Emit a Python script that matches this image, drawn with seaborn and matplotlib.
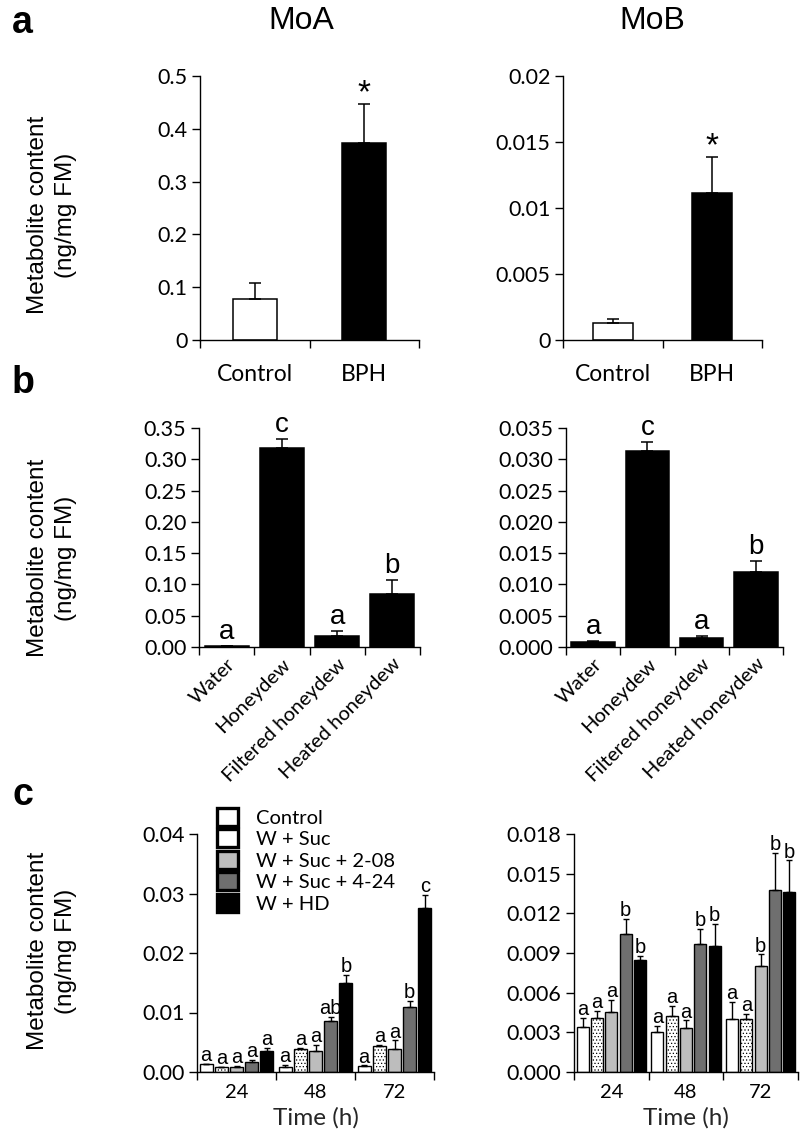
import numpy as np
import pandas as pd
import matplotlib
matplotlib.use('Agg')
import matplotlib.pyplot as plt
import seaborn as sns
from matplotlib.patches import Patch

# ---- panel a: BPH infestation ----
a_groups = ['Control', 'BPH']
moa_a_mean = [0.077, 0.373]
moa_a_sd = [0.031, 0.074]
mob_a_mean = [0.0013, 0.0111]
mob_a_sd = [0.0003, 0.0028]
a_marks = ['', '*']
a_colors = ['white', 'black']

# ---- panel b: honeydew treatments ----
b_groups = ['Water', 'Honeydew', 'Filtered honeydew', 'Heated honeydew']
moa_b_mean = [0.0015, 0.318, 0.018, 0.085]
moa_b_sd = [0.0003, 0.014, 0.008, 0.022]
mob_b_mean = [0.0008, 0.0313, 0.0014, 0.0120]
mob_b_sd = [0.0001, 0.0015, 0.0004, 0.0017]
b_letters = ['a', 'c', 'a', 'b']
b_colors = ['black'] * 4

# ---- panel c: time course (rows = treatment, cols = time) ----
times = ['24', '48', '72']
treatments = ['Control', 'W + Suc', 'W + Suc + 2-08', 'W + Suc + 4-24', 'W + HD']
c_colors = ['white', 'white', '#bdbdbd', '#6f6f6f', 'black']
moa_c_mean = [[0.0013, 0.0008, 0.0010],
              [0.0008, 0.0039, 0.0044],
              [0.0009, 0.0036, 0.0039],
              [0.0016, 0.0086, 0.0110],
              [0.0035, 0.0150, 0.0276]]
moa_c_sd = [[0.0001, 0.0004, 0.0001],
            [0.0001, 0.0001, 0.0001],
            [0.0001, 0.0009, 0.0014],
            [0.0005, 0.0006, 0.0009],
            [0.0005, 0.0013, 0.0022]]
moa_c_letters = [['a', 'a', 'a'],
                 ['a', 'a', 'a'],
                 ['a', 'a', 'a'],
                 ['a', 'ab', 'b'],
                 ['a', 'b', 'c']]
mob_c_mean = [[0.0034, 0.0030, 0.0040],
              [0.0041, 0.0042, 0.0040],
              [0.00455, 0.0033, 0.0080],
              [0.0104, 0.0097, 0.0138],
              [0.0085, 0.0095, 0.0136]]
mob_c_sd = [[0.0007, 0.0005, 0.0013],
            [0.0005, 0.0008, 0.0004],
            [0.0009, 0.0006, 0.0009],
            [0.0012, 0.0011, 0.0028],
            [0.0003, 0.0017, 0.0024]]
mob_c_letters = [['a', 'a', 'a'],
                 ['a', 'a', 'a'],
                 ['a', 'a', 'b'],
                 ['b', 'b', 'b'],
                 ['b', 'b', 'b']]

# y ticks per panel
moa_a_ticks = [0, 0.1, 0.2, 0.3, 0.4, 0.5]
mob_a_ticks = [0, 0.005, 0.01, 0.015, 0.02]
moa_b_ticks = [0, 0.05, 0.10, 0.15, 0.20, 0.25, 0.30, 0.35]
mob_b_ticks = [0, 0.005, 0.010, 0.015, 0.020, 0.025, 0.030, 0.035]
moa_c_ticks = [0, 0.01, 0.02, 0.03, 0.04]
mob_c_ticks = [0, 0.003, 0.006, 0.009, 0.012, 0.015, 0.018]

sns.set_style('ticks')
plt.rcParams['font.family'] = ['Lato', 'DejaVu Sans']
plt.rcParams['axes.edgecolor'] = 'black'
plt.rcParams['xtick.color'] = 'black'
plt.rcParams['ytick.color'] = 'black'
plt.rcParams['text.color'] = 'black'
plt.rcParams['hatch.linewidth'] = 0.5
ARIAL = ['Liberation Sans', 'DejaVu Sans']
TICK_FS = 15.5

W, H = 800, 1129
fig = plt.figure(figsize=(8, 11.29), dpi=100)


def add_ax(x0, y0, x1, y1):
    # pixel box -> figure fraction
    return fig.add_axes([x0 / W, 1 - y1 / H, (x1 - x0) / W, (y1 - y0) / H])


def style_axis(ax, ticks, fmt, n):
    sns.despine(ax=ax)
    for s in ['left', 'bottom']:
        ax.spines[s].set_linewidth(1.0)
    ax.set_ylim(0, ticks[-1])
    ax.set_yticks(ticks, [fmt.format(t) for t in ticks])
    ax.set_xlim(-0.5, n - 0.5)
    ax.set_xticks(np.arange(-0.5, n), [''] * (n + 1))
    ax.tick_params(axis='both', which='major', direction='out', length=6, width=1.0,
                   labelsize=TICK_FS, pad=3)
    ax.tick_params(axis='x', which='minor', length=0)
    ax.set_xlabel('')
    ax.set_ylabel('')


def simple_panel(ax, cats, mean, sd, colors, width, marks, mark_kw, ticks, fmt, xlab_kw):
    df = pd.DataFrame({'cat': cats, 'val': mean})
    sns.barplot(data=df, x='cat', y='val', hue='cat', palette=colors, legend=False,
                width=width, edgecolor='black', linewidth=1.1, saturation=1, ax=ax)
    bars = sorted(ax.patches, key=lambda p: p.get_x())
    xs = [p.get_x() + p.get_width() / 2 for p in bars]
    ax.errorbar(xs, mean, yerr=[np.zeros(len(mean)), sd], fmt='none', ecolor='black',
                elinewidth=1.1, capsize=4, capthick=1.1)
    for x, m, s, lab in zip(xs, mean, sd, marks):
        if lab:
            ax.annotate(lab, (x, m + s), **mark_kw)
    style_axis(ax, ticks, fmt, len(cats))
    ax.set_xticks(range(len(cats)), cats, minor=True, **xlab_kw)


def time_panel(ax, mean, sd, letters, ticks, fmt):
    rows = []
    for k, trt in enumerate(treatments):
        for t, tm in enumerate(times):
            rows.append({'time': tm, 'treatment': trt, 'val': mean[k][t]})
    df = pd.DataFrame(rows)
    sns.barplot(data=df, x='time', y='val', hue='treatment', hue_order=treatments,
                order=times, palette=c_colors, width=0.96, gap=0.16, legend=False,
                edgecolor='black', linewidth=1.0, saturation=1, ax=ax)
    bar_conts = list(ax.containers)
    for k, cont in enumerate(bar_conts):
        xs = [p.get_x() + p.get_width() / 2 for p in cont.patches]
        if k == 1:
            for p in cont.patches:
                p.set_hatch('.....')
        ax.errorbar(xs, mean[k], yerr=[np.zeros(len(times)), sd[k]], fmt='none',
                    ecolor='black', elinewidth=1.0, capsize=2.5, capthick=1.0)
        for x, m, s, lab in zip(xs, mean[k], sd[k], letters[k]):
            ax.annotate(lab, (x, m + s), xytext=(0, 2), textcoords='offset points',
                        ha='center', va='baseline', fontsize=14.5, family=ARIAL,
                        annotation_clip=False)
    style_axis(ax, ticks, fmt, len(times))
    ax.set_xticks(range(len(times)), times, minor=True, fontsize=14.5)
    ax.tick_params(axis='x', which='minor', pad=9)
    ax.set_xlabel('Time (h)', fontsize=17.5, labelpad=4)


star_kw = dict(xytext=(0, 1), textcoords='offset points', ha='center', va='baseline',
               fontsize=24, family=ARIAL, annotation_clip=False)
let_kw = dict(xytext=(0, 5), textcoords='offset points', ha='center', va='baseline',
              fontsize=20, family=ARIAL, annotation_clip=False)
a_xlab = dict(fontsize=16.5)
b_xlab = dict(fontsize=14.5, rotation=45, ha='right', rotation_mode='anchor')

# panel a
ax = add_ax(200, 76, 419, 340)
simple_panel(ax, a_groups, moa_a_mean, moa_a_sd, a_colors, 0.4, a_marks, star_kw,
             moa_a_ticks, '{:g}', a_xlab)
ax.tick_params(axis='x', which='minor', pad=17)
ax = add_ax(563, 76, 762, 340)
simple_panel(ax, a_groups, mob_a_mean, mob_a_sd, a_colors, 0.4, a_marks, star_kw,
             mob_a_ticks, '{:g}', a_xlab)
ax.tick_params(axis='x', which='minor', pad=17)

# panel b
ax = add_ax(199, 428, 420, 647)
simple_panel(ax, b_groups, moa_b_mean, moa_b_sd, b_colors, 0.8, b_letters, let_kw,
             moa_b_ticks, '{:.2f}', b_xlab)
ax.tick_params(axis='x', which='minor', pad=6)
ax = add_ax(566, 428, 783, 647)
simple_panel(ax, b_groups, mob_b_mean, mob_b_sd, b_colors, 0.8, b_letters, let_kw,
             mob_b_ticks, '{:.3f}', b_xlab)
ax.tick_params(axis='x', which='minor', pad=6)

# panel c
ax = add_ax(197, 834, 434, 1072)
time_panel(ax, moa_c_mean, moa_c_sd, moa_c_letters, moa_c_ticks, '{:.2f}')
handles = [Patch(facecolor=c, edgecolor='black', linewidth=2.4, joinstyle='round')
           for c in c_colors]
ax.legend(handles, treatments, loc='upper left', bbox_to_anchor=(0.085, 1.11),
          frameon=False, fontsize=14.5, handlelength=1.05, handleheight=1.0,
          labelspacing=0.13, handletextpad=0.9, borderaxespad=0, borderpad=0)
ax = add_ax(574, 834, 798, 1072)
time_panel(ax, mob_c_mean, mob_c_sd, mob_c_letters, mob_c_ticks, '{:.3f}')

# titles, panel letters and shared y labels
fig.text(301 / W, 1 - 21 / H, 'MoA', fontsize=23, family=ARIAL, ha='center', va='center')
fig.text(652 / W, 1 - 21 / H, 'MoB', fontsize=23, family=ARIAL, ha='center', va='center')
for lab, yb in [('a', 33), ('b', 393), ('c', 805)]:
    fig.text(12 / W, 1 - yb / H, lab, fontsize=27, fontweight='bold', family=ARIAL,
             ha='left', va='baseline')
for yc in [215, 558, 951]:
    fig.text(52 / W, 1 - yc / H, 'Metabolite content\n(ng/mg FM)', fontsize=17.5,
             family=ARIAL, rotation=90, ha='center', va='center', linespacing=1.3,
             multialignment='center')

fig.savefig('out.png', dpi=100)
